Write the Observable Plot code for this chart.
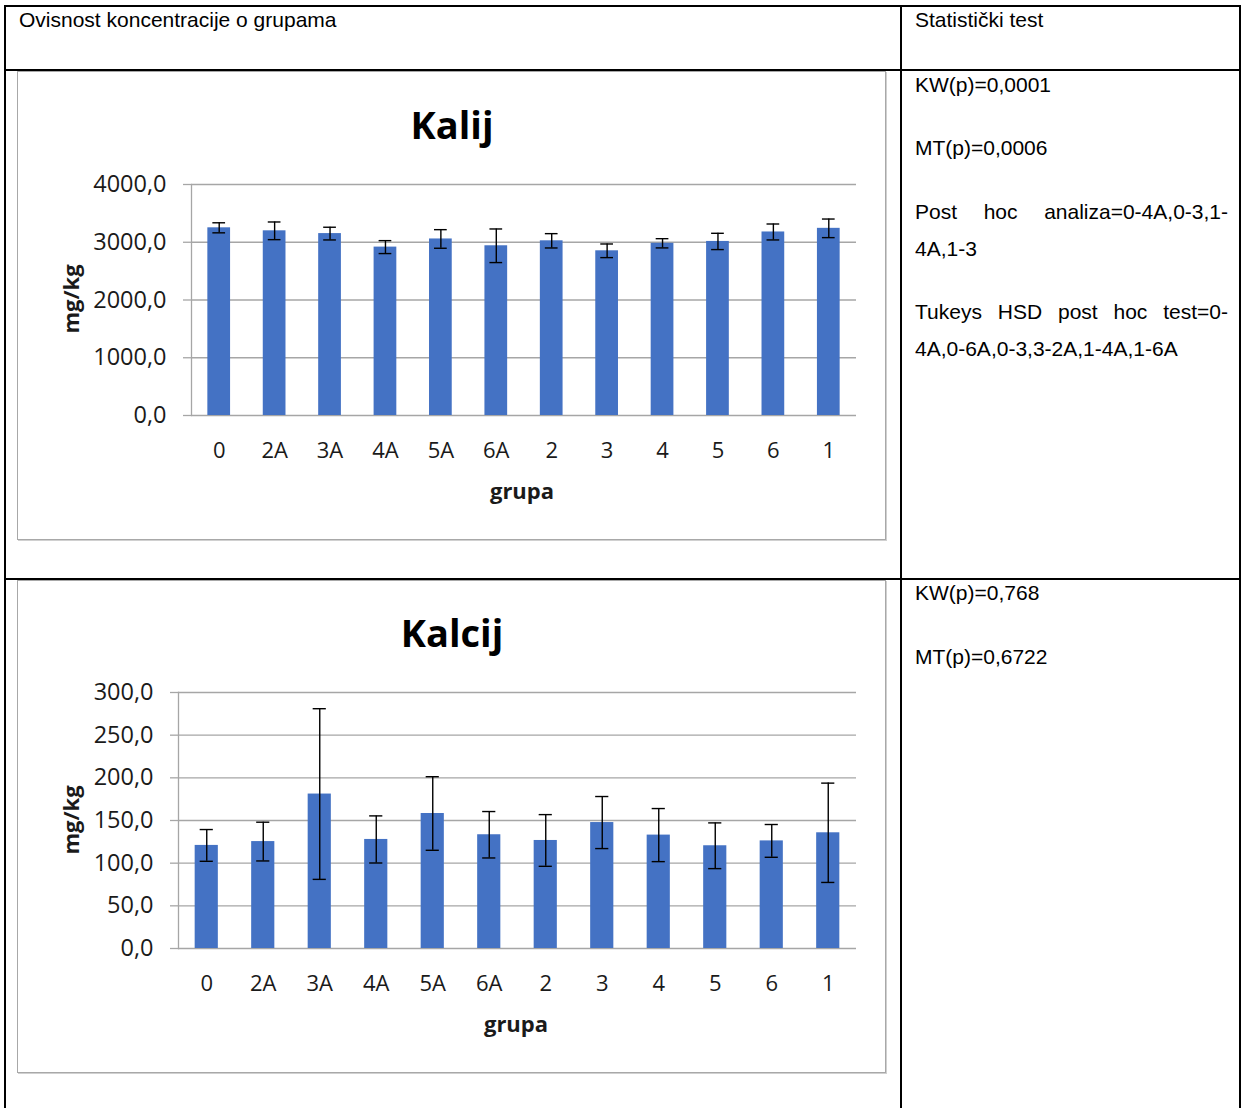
<!DOCTYPE html>
<html>
<head>
<meta charset="utf-8">
<script src="https://cdn.jsdelivr.net/npm/d3@7"></script>
<script src="https://cdn.jsdelivr.net/npm/@observablehq/plot@0.6"></script>
<style>
  html, body { margin: 0; padding: 0; background: #fff; }
  body { width: 1242px; height: 1108px; position: relative; overflow: hidden; }
  .ln { position: absolute; background: #000; }
  .cell { position: absolute; font-family: "Liberation Sans", Arial, sans-serif; font-size: 21px; line-height: 24px; color: #000; white-space: nowrap; }
  .just { text-align: justify; text-align-last: justify; white-space: normal; }
  .box { position: absolute; border: 1px solid #a8a8a8; box-shadow: 1px 1px 0 #d0d0d0; box-sizing: border-box; }
  .svgwrap { position: absolute; }
  .title { position: absolute; font-family: "Open Sans", sans-serif; font-weight: 700; font-size: 38px; line-height: 1; transform: translate(-50%, -50%); white-space: nowrap; color: #000; }
  .axl { position: absolute; font-family: "Open Sans", sans-serif; font-weight: 700; font-size: 22px; line-height: 1; transform: translate(-50%, -50%); white-space: nowrap; color: #1a1a1a; }
  .rot { transform: translate(-50%, -50%) rotate(-90deg); }
</style>
</head>
<body>
<script>
// ---- data ----
const groups = ["0", "2A", "3A", "4A", "5A", "6A", "2", "3", "4", "5", "6", "1"];

const kalijMean = [3250, 3198, 3150, 2916, 3057, 2939, 3025, 2852, 2982, 3014, 3178, 3241];
const kalijErr  = [87, 153, 110, 112, 161, 291, 124, 118, 80, 141, 138, 161];
const kalijTicks = [0, 1000, 2000, 3000, 4000];

const kalcijMean = [120.8, 125.3, 181.0, 127.8, 158.2, 133.3, 126.6, 147.6, 132.9, 120.4, 126.1, 135.6];
const kalcijErr  = [18.6, 22.7, 100.0, 27.6, 43.1, 27.2, 30.3, 30.5, 31.1, 26.8, 19.2, 58.2];
const kalcijTicks = [0, 50, 100, 150, 200, 250, 300];

const headerLeft = "Ovisnost koncentracije o grupama";
const headerRight = "Statistički test";
const titles = ["Kalij", "Kalcij"];
const yLabel = "mg/kg";
const xLabel = "grupa";

// ---- helpers ----
function el(tag, cls, style, text) {
  const e = document.createElement(tag);
  if (cls) e.className = cls;
  Object.assign(e.style, style || {});
  if (text != null) e.textContent = text;
  document.body.appendChild(e);
  return e;
}
const fmt = d => d.toFixed(1).replace(".", ",");

function chart(means, errs, ticks, o) {
  const data = groups.map((g, i) => ({g, v: means[i], lo: means[i] - errs[i], hi: means[i] + errs[i]}));
  return Plot.plot({
    width: o.width, height: o.height,
    marginLeft: o.ml, marginRight: o.mr, marginTop: o.mt, marginBottom: o.mb,
    style: {fontFamily: "'Open Sans', sans-serif", fontSize: "22px", color: "#1a1a1a", background: "transparent", overflow: "visible"},
    x: {domain: groups, paddingInner: 0.59, paddingOuter: 0.295, round: false},
    y: {domain: [ticks[0], ticks[ticks.length - 1]]},
    marks: [
      Plot.gridY(ticks, {stroke: "#a6a6a6", strokeOpacity: 1, strokeWidth: 1.3}),
      Plot.frame({anchor: "left", stroke: "#a6a6a6", strokeWidth: 1.3}),
      Plot.axisY(ticks, {tickSize: 8, tickPadding: 17, tickFormat: fmt, fontSize: 23.5, stroke: "#a6a6a6", strokeWidth: 1.3, label: null}),
      Plot.axisX({tickSize: 0, tickPadding: 27, fontSize: 22, label: null}),
      Plot.barY(data, {x: "g", y: "v", fill: "#4472C4"}),
      Plot.ruleX(data, {x: "g", y1: "lo", y2: "hi", stroke: "#000", strokeWidth: 1.4}),
      Plot.tickY(data, {x: "g", y: "lo", stroke: "#000", strokeWidth: 1.4, inset: 5}),
      Plot.tickY(data, {x: "g", y: "hi", stroke: "#000", strokeWidth: 1.4, inset: 5})
    ]
  });
}

// ---- table lines ----
el("div", "ln", {left: "4px", top: "5px", width: "1237px", height: "2px"});
el("div", "ln", {left: "4px", top: "5px", width: "2px", height: "1103px"});
el("div", "ln", {left: "1239px", top: "5px", width: "2px", height: "1103px"});
el("div", "ln", {left: "900px", top: "5px", width: "2px", height: "1103px"});
el("div", "ln", {left: "4px", top: "69px", width: "1237px", height: "2px"});
el("div", "ln", {left: "4px", top: "578px", width: "1237px", height: "2px"});

// ---- header texts ----
el("div", "cell", {left: "19px", top: "8px"}, headerLeft);
el("div", "cell", {left: "915px", top: "8px"}, headerRight);

// ---- right column texts ----
const W = "313px";
el("div", "cell", {left: "915px", top: "73px"}, "KW(p)=0,0001");
el("div", "cell", {left: "915px", top: "136px"}, "MT(p)=0,0006");
el("div", "cell just", {left: "915px", top: "200px", width: W}, "Post hoc analiza=0-4A,0-3,1-");
el("div", "cell", {left: "915px", top: "237px"}, "4A,1-3");
el("div", "cell just", {left: "915px", top: "300px", width: W}, "Tukeys HSD post hoc test=0-");
el("div", "cell", {left: "915px", top: "337px"}, "4A,0-6A,0-3,3-2A,1-4A,1-6A");
el("div", "cell", {left: "915px", top: "581px"}, "KW(p)=0,768");
el("div", "cell", {left: "915px", top: "645px"}, "MT(p)=0,6722");

// ---- chart 1 ----
el("div", "box", {left: "17px", top: "71px", width: "869px", height: "469px"});
const w1 = el("div", "svgwrap", {left: "18px", top: "72px"});
w1.appendChild(chart(kalijMean, kalijErr, kalijTicks, {width: 867, height: 467, ml: 173, mr: 29, mt: 112, mb: 124}));
el("div", "title", {left: "452px", top: "124px"}, titles[0]);
el("div", "axl rot", {left: "70px", top: "299px"}, yLabel);
el("div", "axl", {left: "522px", top: "490px"}, xLabel);

// ---- chart 2 ----
el("div", "box", {left: "17px", top: "580px", width: "869px", height: "493px"});
const w2 = el("div", "svgwrap", {left: "18px", top: "580px"});
w2.appendChild(chart(kalcijMean, kalcijErr, kalcijTicks, {width: 867, height: 491, ml: 160, mr: 29, mt: 112, mb: 123}));
el("div", "title", {left: "452px", top: "632px"}, titles[1]);
el("div", "axl rot", {left: "70px", top: "820px"}, yLabel);
el("div", "axl", {left: "516px", top: "1023px"}, xLabel);
</script>
</body>
</html>
